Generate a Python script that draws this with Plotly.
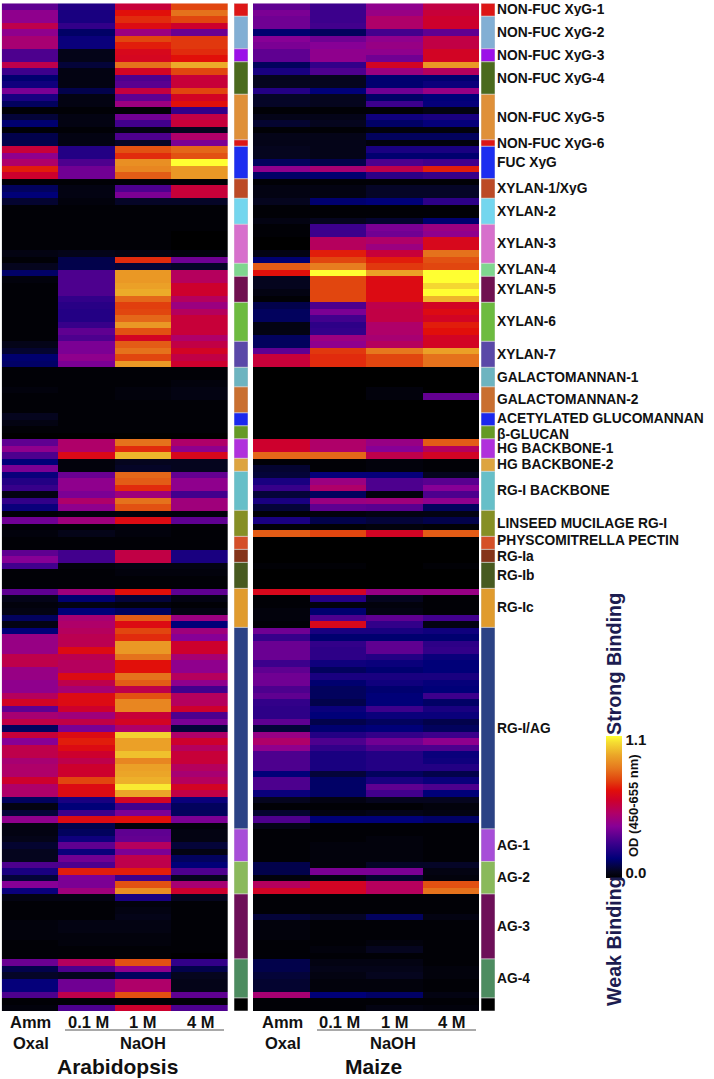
import plotly.graph_objects as go

W, H = 714, 1079
conditions = ["Amm Oxal", "0.1 M NaOH", "1 M NaOH", "4 M NaOH"]

arabidopsis = [
[.33,.22,.58,.76],[.42,.20,.68,.84],[.42,.20,.72,.76],[.55,.25,.66,.60],[.42,.13,.45,.35],[.48,.17,.76,.74],[.48,.17,.70,.74],
[.30,.04,.64,.72],[.30,.04,.63,.68],[.55,.08,.84,.96],[.27,.03,.62,.76],[.14,.03,.30,.58],[.18,.03,.32,.58],[.38,.10,.57,.76],
[.20,.03,.33,.62],[.12,.03,.45,.68],[.01,.01,.01,.25],[.08,.03,.36,.56],[.14,.03,.28,.58],[.01,.01,.03,.05],[.10,.03,.30,.50],
[.10,.03,.06,.38],[.58,.22,.78,.82],[.42,.22,.72,.78],[.50,.30,.90,1.1],[.70,.36,.88,.92],[.60,.36,.80,.92],[.01,.01,.01,.01],
[.12,.03,.30,.58],[.15,.03,.38,.58],[.07,.02,.06,.06],[.01,.01,.01,.01],[.01,.01,.01,.01],[.01,.01,.01,.01],[.01,.01,.01,.01],
[.01,.01,.01,.00],[.01,.01,.01,.00],[.01,.01,.01,.00],[.03,.04,.03,.02],[.01,.10,.72,.36],[.05,.10,.08,.06],[.13,.30,.92,.52],
[.02,.30,.92,.52],[.01,.30,.94,.60],[.01,.30,.96,.60],[.01,.25,.82,.52],[.01,.23,.75,.45],[.01,.22,.76,.52],[.01,.22,.82,.58],
[.01,.26,.92,.58],[.01,.33,.78,.58],[.01,.30,.62,.50],[.04,.38,.80,.56],[.07,.38,.84,.62],[.14,.42,.76,.56],[.13,.38,.92,.60],
[.01,.01,.01,.01],[.01,.01,.01,.01],[.01,.01,.01,.02],[.02,.01,.02,.03],[.01,.01,.02,.03],[.01,.01,.01,.01],[.01,.01,.01,.01],
[.05,.01,.01,.01],[.03,.01,.01,.01],[.01,.01,.01,.01],[.00,.00,.00,.00],[.33,.50,.84,.50],[.42,.50,.72,.42],[.30,.65,.98,.64],
[.15,.02,.05,.05],[.38,.02,.06,.05],[.17,.35,.82,.34],[.22,.42,.80,.42],[.26,.42,.72,.42],[.03,.38,.46,.28],[.25,.50,.84,.46],
[.17,.42,.78,.46],[.01,.02,.02,.02],[.36,.46,.66,.33],[.01,.01,.02,.01],[.02,.04,.02,.01],[.01,.01,.01,.01],[.01,.01,.01,.01],
[.33,.28,.56,.20],[.40,.28,.56,.20],[.28,.02,.03,.03],[.01,.01,.02,.02],[.01,.01,.01,.01],[.01,.01,.01,.01],[.33,.46,.68,.33],
[.04,.14,.08,.03],[.02,.03,.02,.01],[.03,.15,.12,.03],[.12,.48,.80,.45],[.03,.50,.66,.15],[.15,.52,.76,.46],[.44,.54,.72,.40],
[.44,.54,.92,.60],[.44,.66,.92,.60],[.55,.54,.84,.48],[.55,.52,.68,.42],[.44,.52,.68,.42],[.44,.66,.84,.52],[.42,.55,.80,.42],
[.42,.48,.55,.28],[.52,.66,.78,.52],[.62,.66,.88,.52],[.33,.60,.88,.60],[.48,.46,.58,.30],[.56,.56,.62,.38],[.12,.38,.50,.08],
[.58,.66,1.03,.50],[.40,.70,.94,.60],[.55,.66,.94,.52],[.55,.60,1.00,.58],[.48,.55,.88,.58],[.50,.60,.94,.52],[.50,.60,.95,.48],
[.60,.76,.97,.52],[.50,.66,1.07,.62],[.50,.66,.95,.56],[.12,.20,.62,.17],[.03,.15,.28,.12],[.08,.27,.38,.12],[.42,.66,.68,.38],
[.03,.10,.02,.02],[.03,.12,.33,.03],[.04,.18,.34,.03],[.07,.33,.52,.08],[.05,.17,.38,.03],[.05,.36,.55,.12],[.30,.30,.55,.15],
[.20,.70,.70,.30],[.08,.38,.27,.05],[.40,.38,.78,.48],[.17,.46,.90,.60],[.03,.03,.20,.05],[.01,.01,.02,.01],[.01,.01,.03,.01],
[.01,.01,.04,.01],[.02,.03,.03,.01],[.02,.03,.03,.01],[.02,.02,.02,.01],[.01,.02,.02,.01],[.01,.01,.01,.01],[.01,.01,.01,.00],
[.35,.52,.78,.25],[.10,.30,.42,.10],[.06,.05,.12,.05],[.16,.36,.50,.04],[.16,.36,.50,.04],[.30,.55,.78,.33],[.01,.01,.01,.01],
[.02,.30,.60,.30],
]

maize = [
[.33,.27,.42,.56],[.38,.27,.44,.58],[.36,.27,.50,.60],[.36,.28,.50,.60],[.14,.12,.28,.33],[.40,.36,.42,.56],[.38,.40,.44,.56],
[.33,.42,.42,.62],[.33,.42,.36,.62],[.12,.25,.62,.92],[.20,.30,.45,.52],[.05,.05,.14,.14],[.05,.05,.14,.17],[.22,.15,.36,.44],
[.06,.05,.13,.15],[.06,.05,.27,.16],[.01,.01,.01,.03],[.04,.04,.18,.20],[.07,.05,.13,.16],[.01,.01,.02,.02],[.04,.04,.12,.12],
[.04,.04,.02,.02],[.05,.04,.20,.20],[.05,.04,.14,.14],[.12,.10,.30,.28],[.42,.48,.55,.70],[.13,.14,.24,.26],[.01,.01,.01,.01],
[.03,.03,.06,.06],[.03,.03,.06,.06],[.05,.14,.15,.24],[.01,.01,.01,.01],[.01,.01,.01,.01],[.03,.05,.07,.14],[.01,.27,.38,.45],
[.01,.27,.36,.42],[.00,.52,.50,.64],[.00,.52,.45,.64],[.03,.70,.58,.84],[.14,.76,.70,.78],[.80,.86,.74,.76],[.68,1.1,.94,1.1],
[.05,.76,.66,1.1],[.05,.76,.66,1.04],[.03,.76,.66,1.1],[.01,.76,.66,.98],[.10,.30,.55,.62],[.12,.38,.56,.66],[.12,.28,.56,.62],
[.03,.24,.50,.70],[.03,.25,.50,.68],[.12,.45,.48,.62],[.12,.42,.52,.62],[.33,.74,.85,.94],[.58,.72,.76,.84],[.58,.72,.76,.84],
[.00,.00,.00,.00],[.00,.00,.00,.00],[.00,.00,.00,.00],[.00,.00,.02,.00],[.00,.00,.02,.34],[.00,.00,.00,.00],[.00,.00,.00,.00],
[.00,.00,.00,.00],[.00,.00,.00,.00],[.00,.00,.00,.00],[.00,.00,.00,.00],[.60,.50,.44,.80],[.60,.50,.40,.52],[.82,.82,.55,.62],
[.01,.01,.02,.01],[.07,.01,.02,.01],[.08,.16,.16,.05],[.20,.45,.30,.32],[.26,.50,.30,.40],[.08,.12,.02,.30],[.20,.45,.46,.42],
[.08,.33,.32,.12],[.01,.02,.03,.03],[.20,.10,.08,.10],[.01,.01,.02,.01],[.80,.76,.62,.80],[.00,.00,.00,.00],[.00,.00,.00,.00],
[.00,.00,.00,.00],[.00,.00,.00,.00],[.01,.01,.00,.01],[.00,.00,.00,.00],[.00,.00,.00,.00],[.00,.00,.00,.00],[.64,.62,.44,.44],
[.01,.22,.05,.01],[.01,.02,.02,.01],[.02,.14,.03,.01],[.02,.30,.33,.28],[.01,.64,.25,.03],[.36,.20,.20,.18],[.26,.14,.14,.14],
[.35,.25,.33,.24],[.35,.24,.33,.25],[.35,.24,.22,.17],[.27,.18,.17,.15],[.33,.12,.14,.15],[.36,.20,.20,.20],[.36,.14,.18,.16],
[.30,.12,.14,.15],[.33,.12,.15,.27],[.25,.10,.15,.13],[.24,.17,.27,.20],[.24,.15,.17,.17],[.33,.10,.12,.10],[.08,.14,.15,.12],
[.44,.22,.25,.27],[.50,.30,.36,.42],[.42,.25,.30,.30],[.30,.20,.22,.17],[.30,.20,.22,.18],[.30,.20,.22,.22],[.15,.08,.12,.10],
[.30,.13,.20,.17],[.30,.13,.33,.30],[.17,.13,.28,.15],[.05,.03,.05,.05],[.01,.01,.01,.02],[.07,.03,.04,.03],[.30,.15,.15,.13],
[.04,.01,.01,.01],[.01,.01,.01,.01],[.01,.01,.02,.01],[.01,.02,.02,.01],[.01,.02,.02,.01],[.01,.02,.02,.01],[.10,.02,.06,.06],
[.10,.38,.38,.03],[.02,.03,.07,.02],[.52,.62,.52,.78],[.62,.62,.52,.84],[.01,.01,.01,.01],[.01,.01,.01,.01],[.01,.01,.01,.01],
[.08,.06,.12,.03],[.02,.01,.01,.01],[.02,.01,.01,.01],[.02,.01,.01,.01],[.01,.01,.02,.01],[.01,.02,.05,.01],[.01,.01,.01,.01],
[.10,.03,.03,.01],[.10,.04,.04,.02],[.08,.03,.05,.02],[.07,.02,.02,.01],[.07,.02,.02,.01],[.48,.15,.13,.03],[.01,.01,.01,.01],
[.01,.01,.03,.02],
]

group_names = ["NON-FUC XyG-1","NON-FUC XyG-2","NON-FUC XyG-3","NON-FUC XyG-4","NON-FUC XyG-5","NON-FUC XyG-6","FUC XyG",
 "XYLAN-1/XyG","XYLAN-2","XYLAN-3","XYLAN-4","XYLAN-5","XYLAN-6","XYLAN-7","GALACTOMANNAN-1","GALACTOMANNAN-2",
 "ACETYLATED GLUCOMANNAN","β-GLUCAN","HG BACKBONE-1","HG BACKBONE-2","RG-I BACKBONE","LINSEED MUCILAGE RG-I",
 "PHYSCOMITRELLA PECTIN","RG-Ia","RG-Ib","RG-Ic","RG-I/AG","AG-1","AG-2","AG-3","AG-4",""]
group_rows = [2,5,2,5,7,1,5,3,4,6,2,4,6,4,3,4,2,2,3,2,6,4,2,2,4,6,31,5,5,10,6,2]
group_colors = ["#DD1616","#82AFD4","#9B10E8","#4B6A1E","#DF9039","#DD1616","#1C2DF0","#BC4A26","#74D6EE","#D770CC",
 "#7FD68F","#701050","#6DBB40","#5A48A8","#6DB4C0","#C96F30","#1A28EE","#659A25","#B030DC","#DDA440","#67BFC8",
 "#868F25","#D54F28","#85341A","#475A20","#E09B2E","#2B4285","#A74ED8","#8AB95C","#6D0F58","#4D8C60","#000000"]

colorscale_stops = [
 (0.00,"#000000"),(0.05,"#05051e"),(0.15,"#000078"),(0.27,"#3c008c"),(0.40,"#870096"),(0.50,"#af0069"),
 (0.60,"#cd002d"),(0.68,"#e10f0a"),(0.76,"#e1460f"),(0.85,"#e6781e"),(0.95,"#eba528"),(1.05,"#f5dc32"),(1.10,"#ffff32")]

ZMAX = 1.1
scale = [[v / ZMAX, c] for v, c in colorscale_stops]
n_rows = len(arabidopsis)
row_y = [i + 0.5 for i in range(n_rows)]
TOP, BOTTOM = 3.3, 1011.0

def xd(a, b):
    return [a / W, b / W]

def ax(px):
    return px / W

def ay(py):
    return 1 - py / H

fig = go.Figure()
for data, xa, show in ((arabidopsis, "x", True), (maize, "x3", False)):
    fig.add_trace(go.Heatmap(
        z=data, x=conditions, y=row_y, xaxis=xa, yaxis="y", zmin=0, zmax=ZMAX, colorscale=scale,
        showscale=show, hoverinfo="skip", xgap=0, ygap=0,
        colorbar=dict(x=606 / W, xanchor="left", y=ay(878), yanchor="bottom", lenmode="pixels", len=142,
                      thickness=16, thicknessmode="pixels", outlinewidth=0, xpad=0, ypad=0,
                      tickmode="array", tickvals=[0.04, 1.07], ticktext=["0.0", "1.1"], ticks="",
                      tickfont=dict(family="Liberation Sans", size=15, color="#111111", weight="bold"))))

starts, acc = [], 0
for r in group_rows:
    starts.append(acc)
    acc += r
for xa in ("x2", "x4"):
    fig.add_trace(go.Bar(x=[0.5] * len(group_rows), y=group_rows, base=starts, width=1, xaxis=xa, yaxis="y",
                         marker=dict(color=group_colors, line=dict(color="#d8d8d8", width=0.6)),
                         showlegend=False, hoverinfo="skip"))

LABEL = dict(family="Liberation Sans", color="#111111", weight="bold")
label_nudge = {"ACETYLATED GLUCOMANNAN": -0.1, "β-GLUCAN": 0.25, "PHYSCOMITRELLA PECTIN": -0.3, "RG-Ia": 0.1}
annotations = []
for name, s, r in zip(group_names, starts, group_rows):
    if name:
        annotations.append(dict(text=name, xref="paper", yref="y", x=ax(496), y=s + r / 2 + label_nudge.get(name, 0),
                                xanchor="left", yanchor="middle", showarrow=False, borderpad=0, height=13,
                                font=dict(size=13.8, **LABEL)))

def txt(t, px, py, size, angle=0, color="#111111"):
    annotations.append(dict(text=t, xref="paper", yref="paper", x=ax(px), y=ay(py), xanchor="center",
                            yanchor="middle", showarrow=False, textangle=angle,
                            font=dict(family="Liberation Sans", size=size, color=color, weight="bold")))

for t, px in (("Amm", 30), ("0.1 M", 88), ("1 M", 143), ("4 M", 201), ("Amm", 282), ("0.1 M", 339), ("1 M", 395), ("4 M", 452)):
    txt(t, px, 1022, 16.5)
for t, px in (("Oxal", 31), ("NaOH", 143), ("Oxal", 283), ("NaOH", 393)):
    txt(t, px, 1043, 16.5)
txt("Arabidopsis", 117, 1066, 21)
txt("Maize", 373, 1066, 21)
txt("OD (450-655 nm)", 633, 806, 13, angle=-90)
txt("Strong Binding", 614, 664, 19.7, angle=-90, color="#1c1c50")
txt("Weak Binding", 614, 941, 19.7, angle=-90, color="#1c1c50")

shapes = [dict(type="line", xref="paper", yref="paper", x0=ax(a), x1=ax(b), y0=ay(1030), y1=ay(1030),
               line=dict(color="#555555", width=1)) for a, b in ((65, 224), (317, 476))]

hidden = dict(visible=False, showgrid=False, zeroline=False, fixedrange=True)
fig.update_layout(
    width=W, height=H, margin=dict(l=0, r=0, t=0, b=0), paper_bgcolor="white", plot_bgcolor="white",
    barmode="overlay", showlegend=False, annotations=annotations, shapes=shapes,
    xaxis=dict(domain=xd(1.7, 228), **hidden),
    xaxis2=dict(domain=xd(234, 248), range=[0, 1], **hidden),
    xaxis3=dict(domain=xd(253, 479), **hidden),
    xaxis4=dict(domain=xd(481, 495), range=[0, 1], **hidden),
    yaxis=dict(domain=[ay(BOTTOM), ay(TOP)], range=[n_rows, 0], **hidden),
)
fig.write_html("out.html", post_script="document.body.style.margin='0';document.body.style.overflow='hidden';",
               config={"displayModeBar": False})
